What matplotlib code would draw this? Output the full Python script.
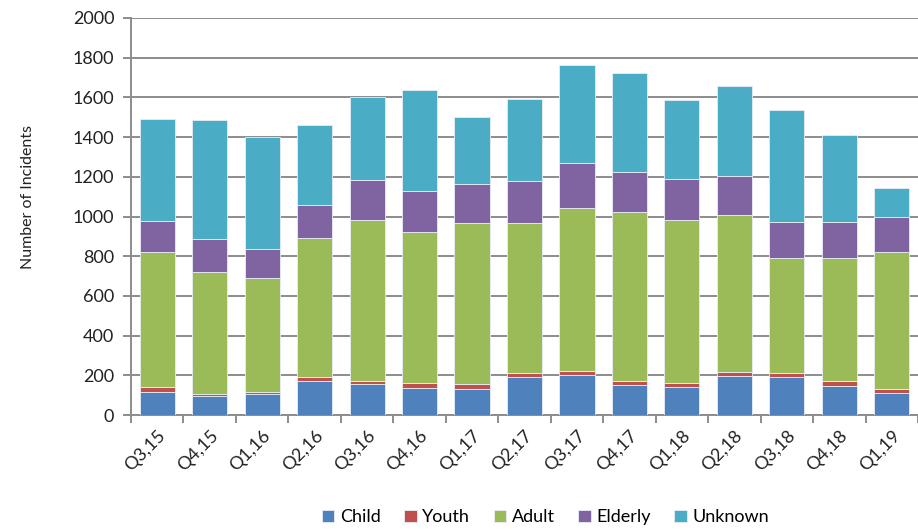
import matplotlib.pyplot as plt
import numpy as np

plt.rcParams['font.family'] = ['Lato', 'DejaVu Sans']

quarters = ['Q3,15', 'Q4,15', 'Q1,16', 'Q2,16', 'Q3,16', 'Q4,16', 'Q1,17', 'Q2,17',
            'Q3,17', 'Q4,17', 'Q1,18', 'Q2,18', 'Q3,18', 'Q4,18', 'Q1,19']
child = [117, 97, 104, 171, 155, 134, 131, 190, 200, 150, 141, 195, 193, 146, 109]
youth = [26, 10, 13, 19, 16, 29, 24, 23, 23, 23, 22, 22, 19, 27, 24]
adult = [680, 612, 572, 702, 811, 761, 814, 756, 818, 850, 819, 789, 580, 619, 690]
elderly = [154, 166, 149, 168, 202, 204, 196, 210, 229, 203, 205, 198, 182, 182, 176]
unknown = [514, 603, 561, 399, 418, 508, 338, 411, 493, 496, 402, 452, 563, 437, 145]

series = [('Child', child, '#4F81BD'), ('Youth', youth, '#C0504D'),
          ('Adult', adult, '#9BBB59'), ('Elderly', elderly, '#8064A2'),
          ('Unknown', unknown, '#4BACC6')]

fig = plt.figure(figsize=(9.18, 5.30), dpi=100)
ax = fig.add_axes([131 / 918, 1 - 415 / 530, 787 / 918, 397 / 530])

x = np.arange(len(quarters))
bottom = np.zeros(len(quarters))
for name, vals, col in series:
    ax.bar(x, vals, 0.67, bottom=bottom, color=col, label=name,
           edgecolor='#e8eef4', linewidth=0.6, zorder=3)
    bottom += np.array(vals)

ax.set_ylim(0, 2000)
ax.set_yticks(np.arange(0, 2001, 200))
ax.set_xlim(-0.5, len(quarters) - 0.5)
ax.grid(axis='y', color='#8c8c8c', linewidth=1.4, zorder=0)

# labels at bar centres, tick marks at category boundaries
ax.set_xticks(np.arange(-0.5, len(quarters), 1.0))
ax.set_xticklabels([])
ax.set_xticks(x, minor=True)
ax.set_xticklabels(quarters, minor=True, rotation=45, ha='right',
                   rotation_mode='anchor', fontsize=13, color='#222222')
ax.tick_params(axis='x', which='minor', length=0, pad=9)
ax.tick_params(axis='x', which='major', length=6, color='#8c8c8c', width=1.4)
ax.tick_params(axis='y', length=6, color='#8c8c8c', width=1.4, labelsize=13,
               labelcolor='#222222', pad=6)

for s in ['top', 'right']:
    ax.spines[s].set_visible(False)
for s in ['left', 'bottom']:
    ax.spines[s].set_color('#8c8c8c')
    ax.spines[s].set_linewidth(1.4)

ax.set_ylabel('Number of Incidents', fontsize=11.5, color='#222222')
ax.yaxis.set_label_coords(-0.122, 0.549)

fig.legend(loc='center', bbox_to_anchor=(0.594, 0.024), ncol=5, frameon=False,
           fontsize=13, handlelength=0.7, handleheight=0.7, handletextpad=0.3,
           columnspacing=1.3)

fig.savefig('out.png', dpi=100)
